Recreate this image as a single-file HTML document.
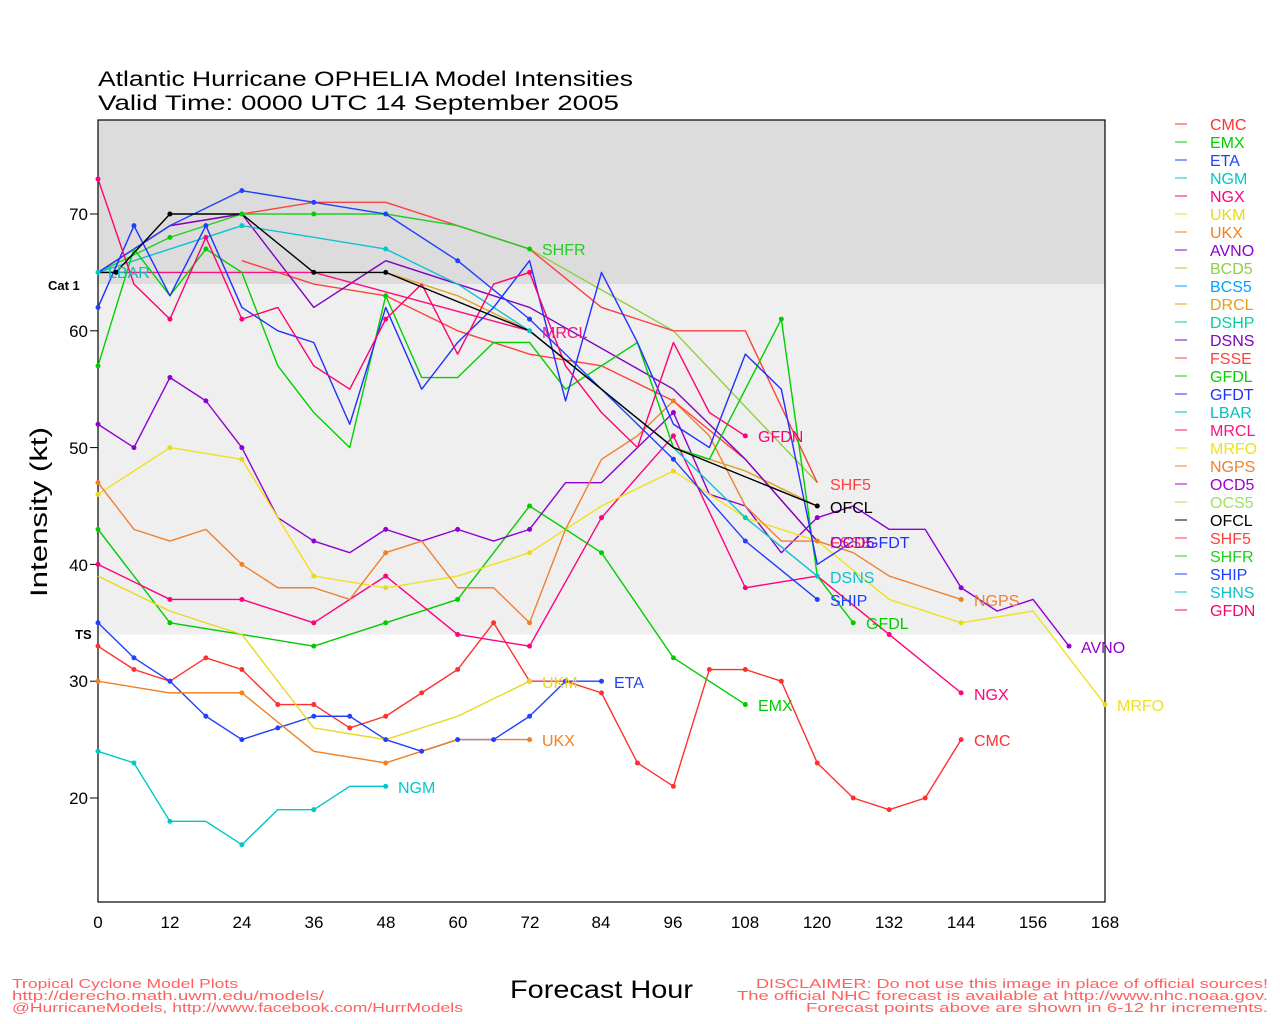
<!DOCTYPE html>
<html><head><meta charset="utf-8"><style>
body{margin:0;background:#fff;}
svg{display:block;font-family:"Liberation Sans",sans-serif;}
.l{fill:none;stroke-width:1.4;vector-effect:non-scaling-stroke;stroke-linejoin:round}
.d{fill:none;stroke-width:5;stroke-linecap:round;vector-effect:non-scaling-stroke}
.t{font-size:16px}
.k{font-size:17px;fill:#000}
</style></head><body>
<svg width="1280" height="1024" viewBox="0 0 1280 1024" xmlns="http://www.w3.org/2000/svg">
<rect x="98" y="120" width="1007" height="164" fill="#dcdcdc"/>
<rect x="98" y="284" width="1007" height="350.5" fill="#efefef"/>
<rect x="98" y="120" width="1007" height="782" fill="none" stroke="#000" stroke-width="1.2"/>
<text x="98" y="86" style="font-size:21px" textLength="535" lengthAdjust="spacingAndGlyphs">Atlantic Hurricane OPHELIA Model Intensities</text>
<text x="98" y="110" style="font-size:21px" textLength="521" lengthAdjust="spacingAndGlyphs">Valid Time: 0000 UTC 14 September 2005</text>
<text x="48" y="290" style="font-size:13px;font-weight:bold">Cat 1</text>
<text x="75" y="639" style="font-size:13px;font-weight:bold">TS</text>
<g stroke="#000" stroke-width="1">
<line x1="90" y1="214" x2="98" y2="214"/><line x1="90" y1="330.8" x2="98" y2="330.8"/><line x1="90" y1="447.6" x2="98" y2="447.6"/><line x1="90" y1="564.4" x2="98" y2="564.4"/><line x1="90" y1="681.2" x2="98" y2="681.2"/><line x1="90" y1="798" x2="98" y2="798"/>
</g>
<g class="k" text-anchor="end">
<text x="88" y="220">70</text><text x="88" y="337">60</text><text x="88" y="454">50</text><text x="88" y="571">40</text><text x="88" y="687">30</text><text x="88" y="804">20</text>
</g>
<g class="k" text-anchor="middle">
<text x="98" y="928">0</text><text x="170" y="928">12</text><text x="242" y="928">24</text><text x="314" y="928">36</text><text x="386" y="928">48</text><text x="458" y="928">60</text><text x="530" y="928">72</text><text x="601" y="928">84</text><text x="673" y="928">96</text><text x="745" y="928">108</text><text x="817" y="928">120</text><text x="889" y="928">132</text><text x="961" y="928">144</text><text x="1033" y="928">156</text><text x="1105" y="928">168</text>
</g>
<text transform="translate(47,512) rotate(-90)" text-anchor="middle" style="font-size:24px" textLength="170" lengthAdjust="spacingAndGlyphs">Intensity (kt)</text>
<text x="510" y="998" style="font-size:25px" textLength="183" lengthAdjust="spacingAndGlyphs">Forecast Hour</text>
<g style="font-size:13px;fill:#ff6060">
<text x="12" y="988" textLength="226" lengthAdjust="spacingAndGlyphs">Tropical Cyclone Model Plots</text>
<text x="12" y="1000" textLength="312" lengthAdjust="spacingAndGlyphs">http://derecho.math.uwm.edu/models/</text>
<text x="12" y="1012" textLength="451" lengthAdjust="spacingAndGlyphs">@HurricaneModels, http://www.facebook.com/HurrModels</text>
<text x="756" y="988" textLength="512" lengthAdjust="spacingAndGlyphs">DISCLAIMER: Do not use this image in place of official sources!</text>
<text x="737" y="1000" textLength="531" lengthAdjust="spacingAndGlyphs">The official NHC forecast is available at http://www.nhc.noaa.gov.</text>
<text x="806" y="1012" textLength="462" lengthAdjust="spacingAndGlyphs">Forecast points above are shown in 6-12 hr increments.</text>
</g>
<g transform="translate(98,1031.6) scale(5.994,-11.68)">
<polyline class="l" stroke="#ff3030" points="0,33 6,31 12,30 18,32 24,31 30,28 36,28 42,26 48,27 54,29 60,31 66,35 72,30 78,30 84,29 90,23 96,21 102,31 108,31 114,30 120,23 126,20 132,19 138,20 144,25"/>
<polyline class="l" stroke="#00cc00" points="0,43 12,35 24,34 36,33 48,35 60,37 72,45 84,41 96,32 108,28"/>
<polyline class="l" stroke="#2040ff" points="0,35 6,32 12,30 18,27 24,25 30,26 36,27 42,27 48,25 54,24 60,25 66,25 72,27 78,30 84,30"/>
<polyline class="l" stroke="#00c8c8" points="0,24 6,23 12,18 18,18 24,16 30,19 36,19 42,21 48,21"/>
<polyline class="l" stroke="#ff0080" points="0,40 12,37 24,37 36,35 48,39 60,34 72,33 84,44 96,51 108,38 120,39 132,34 144,29"/>
<polyline class="l" stroke="#e8d820" points="0,39 12,36 24,34 36,26 48,25 60,27 72,30"/>
<polyline class="l" stroke="#f08020" points="0,30 12,29 24,29 36,24 48,23 60,25 72,25"/>
<polyline class="l" stroke="#9000d0" points="0,52 6,50 12,56 18,54 24,50 30,44 36,42 42,41 48,43 54,42 60,43 66,42 72,43 78,47 84,47 90,50 96,53 102,46 108,45 114,41 120,44 126,45 132,43 138,43 144,38 150,36 156,37 162,33"/>
<polyline class="l" stroke="#f0e020" points="0,46 12,50 24,49 36,39 48,38 60,39 72,41 84,45 96,48 108,44 120,42 132,37 144,35 156,36 168,28"/>
<polyline class="l" stroke="#f08030" points="0,47 6,43 12,42 18,43 24,40 30,38 36,38 42,37 48,41 54,42 60,38 66,38 72,35 78,43 84,49 90,51 96,54 102,51 108,45 114,42 120,42 126,41 132,39 138,38 144,37"/>
<polyline class="l" stroke="#90d040" points="72,67 96,60 120,47"/>
<polyline class="l" stroke="#ff4040" points="0,65 12,69 24,70 36,71 48,71 60,69 72,67 84,62 96,60 108,60 120,47"/>
<polyline class="l" stroke="#20d020" points="0,65 12,68 24,70 36,70 48,70 60,69 72,67"/>
<polyline class="l" stroke="#ff4040" points="24,66 36,64 48,63 60,60 72,58 84,57 96,54 108,49 120,42"/>
<polyline class="l" stroke="#e0a020" points="48,65 60,63 72,60 96,50 108,48 120,45"/>
<polyline class="l" stroke="#8000c0" points="0,65 12,69 24,70 36,62 48,66 60,64 72,62 96,55 108,49 120,42"/>
<polyline class="l" stroke="#10c0d0" points="0,65 12,67 24,69 36,68 48,67 60,64 72,60 84,55 96,50 108,44 120,39"/>
<polyline class="l" stroke="#2040ff" points="0,65 12,69 24,72 36,71 48,70 60,66 72,61 84,55 96,49 108,42 120,37"/>
<polyline class="l" stroke="#ff1080" points="0,65 36,65 72,60"/>
<polyline class="l" stroke="#00d000" points="0,57 6,67 12,63 18,67 24,65 30,57 36,53 42,50 48,63 54,56 60,56 66,59 72,59 78,55 84,57 90,59 96,50 102,49 108,55 114,61 120,39 126,35"/>
<polyline class="l" stroke="#2030ff" points="0,62 6,69 12,63 18,69 24,62 30,60 36,59 42,52 48,62 54,55 60,59 66,62 72,66 78,54 84,65 90,59 96,52 102,50 108,58 114,55 120,40 126,42"/>
<polyline class="l" stroke="#ff0070" points="0,73 6,64 12,61 18,68 24,61 30,62 36,57 42,55 48,61 54,64 60,58 66,64 72,65 78,57 84,53 90,50 96,59 102,53 108,51"/>
<polyline class="l" stroke="#000" points="0,65 3,65 12,70 24,70 36,65 48,65 72,60 96,50 120,45"/>
<path class="d" stroke="#ff3030" d="M0,33h0M6,31h0M12,30h0M18,32h0M24,31h0M30,28h0M36,28h0M42,26h0M48,27h0M54,29h0M60,31h0M66,35h0M72,30h0M84,29h0M90,23h0M96,21h0M102,31h0M108,31h0M114,30h0M120,23h0M126,20h0M132,19h0M138,20h0M144,25h0"/>
<path class="d" stroke="#2040ff" d="M0,35h0M6,32h0M12,30h0M18,27h0M24,25h0M30,26h0M36,27h0M42,27h0M48,25h0M54,24h0M60,25h0M66,25h0M72,27h0M78,30h0M84,30h0M0,62h0M6,69h0M18,69h0M24,72h0M36,71h0M48,70h0M60,66h0M72,61h0M96,49h0M108,42h0M120,37h0"/>
<path class="d" stroke="#00cc00" d="M0,43h0M12,35h0M36,33h0M48,35h0M60,37h0M72,45h0M84,41h0M96,32h0M108,28h0M0,57h0M12,68h0M18,67h0M24,70h0M36,70h0M48,63h0M72,67h0M114,61h0M126,35h0"/>
<path class="d" stroke="#ff0080" d="M0,40h0M12,37h0M24,37h0M36,35h0M48,39h0M60,34h0M72,33h0M84,44h0M96,51h0M108,38h0M132,34h0M144,29h0M0,73h0M12,61h0M18,68h0M24,61h0M48,61h0M72,65h0M108,51h0"/>
<path class="d" stroke="#9000d0" d="M0,52h0M6,50h0M12,56h0M18,54h0M24,50h0M36,42h0M48,43h0M60,43h0M72,43h0M96,53h0M120,44h0M144,38h0M162,33h0"/>
<path class="d" stroke="#f08020" d="M0,47h0M24,40h0M48,41h0M72,35h0M96,54h0M120,42h0M144,37h0M0,30h0M24,29h0M48,23h0M72,25h0"/>
<path class="d" stroke="#e8d820" d="M0,46h0M12,50h0M24,49h0M36,39h0M48,38h0M72,41h0M96,48h0M144,35h0M168,28h0M72,30h0"/>
<path class="d" stroke="#00c8c8" d="M0,24h0M6,23h0M12,18h0M24,16h0M36,19h0M48,21h0M0,65h0M24,69h0M48,67h0M72,60h0M108,44h0M120,39h0"/>
<path class="d" stroke="#000" d="M3,65h0M12,70h0M36,65h0M48,65h0M120,45h0"/>
</g>
<g class="t">
<text x="542" y="255" fill="#20d020">SHFR</text>
<text x="542" y="338" fill="#ff1080">MRCL</text>
<text x="108" y="278" fill="#00c0c0">LBAR</text>
<text x="758" y="442" fill="#ff0070">GFDN</text>
<text x="830" y="490" fill="#ff4040">SHF5</text>
<text x="830" y="513" fill="#000">OFCL</text>
<text x="830" y="548" fill="#ff4040">FSSE</text>
<text x="830" y="548" fill="#a000d0">OCD5</text>
<text x="866" y="548" fill="#2030ff">GFDT</text>
<text x="830" y="583" fill="#10c0d0">DSNS</text>
<text x="830" y="606" fill="#2040ff">SHIP</text>
<text x="866" y="629" fill="#00d000">GFDL</text>
<text x="974" y="606" fill="#f08030">NGPS</text>
<text x="1081" y="653" fill="#9000d0">AVNO</text>
<text x="1117" y="711" fill="#f0e020">MRFO</text>
<text x="974" y="700" fill="#ff0080">NGX</text>
<text x="974" y="746" fill="#ff3030">CMC</text>
<text x="758" y="711" fill="#00cc00">EMX</text>
<text x="614" y="688" fill="#2040ff">ETA</text>
<text x="542" y="688" fill="#e8d820">UKM</text>
<text x="542" y="746" fill="#f08020">UKX</text>
<text x="398" y="793" fill="#00c8c8">NGM</text>
</g>
<g class="t">
<line x1="1175" y1="124" x2="1187" y2="124" stroke="#ff3030"/><text x="1210" y="130" fill="#ff3030">CMC</text>
<line x1="1175" y1="142" x2="1187" y2="142" stroke="#00cc00"/><text x="1210" y="148" fill="#00cc00">EMX</text>
<line x1="1175" y1="160" x2="1187" y2="160" stroke="#2040ff"/><text x="1210" y="166" fill="#2040ff">ETA</text>
<line x1="1175" y1="178" x2="1187" y2="178" stroke="#00c8c8"/><text x="1210" y="184" fill="#00c8c8">NGM</text>
<line x1="1175" y1="196" x2="1187" y2="196" stroke="#ff0080"/><text x="1210" y="202" fill="#ff0080">NGX</text>
<line x1="1175" y1="214" x2="1187" y2="214" stroke="#e8d820"/><text x="1210" y="220" fill="#e8d820">UKM</text>
<line x1="1175" y1="232" x2="1187" y2="232" stroke="#f08020"/><text x="1210" y="238" fill="#f08020">UKX</text>
<line x1="1175" y1="250" x2="1187" y2="250" stroke="#9000d0"/><text x="1210" y="256" fill="#9000d0">AVNO</text>
<line x1="1175" y1="268" x2="1187" y2="268" stroke="#90d040"/><text x="1210" y="274" fill="#90d040">BCD5</text>
<line x1="1175" y1="286" x2="1187" y2="286" stroke="#00a0ff"/><text x="1210" y="292" fill="#00a0ff">BCS5</text>
<line x1="1175" y1="304" x2="1187" y2="304" stroke="#e0a020"/><text x="1210" y="310" fill="#e0a020">DRCL</text>
<line x1="1175" y1="322" x2="1187" y2="322" stroke="#00d0a0"/><text x="1210" y="328" fill="#00d0a0">DSHP</text>
<line x1="1175" y1="340" x2="1187" y2="340" stroke="#8000c0"/><text x="1210" y="346" fill="#8000c0">DSNS</text>
<line x1="1175" y1="358" x2="1187" y2="358" stroke="#ff4040"/><text x="1210" y="364" fill="#ff4040">FSSE</text>
<line x1="1175" y1="376" x2="1187" y2="376" stroke="#00d000"/><text x="1210" y="382" fill="#00d000">GFDL</text>
<line x1="1175" y1="394" x2="1187" y2="394" stroke="#2030ff"/><text x="1210" y="400" fill="#2030ff">GFDT</text>
<line x1="1175" y1="412" x2="1187" y2="412" stroke="#00c0c0"/><text x="1210" y="418" fill="#00c0c0">LBAR</text>
<line x1="1175" y1="430" x2="1187" y2="430" stroke="#ff1080"/><text x="1210" y="436" fill="#ff1080">MRCL</text>
<line x1="1175" y1="448" x2="1187" y2="448" stroke="#f0e020"/><text x="1210" y="454" fill="#f0e020">MRFO</text>
<line x1="1175" y1="466" x2="1187" y2="466" stroke="#f08030"/><text x="1210" y="472" fill="#f08030">NGPS</text>
<line x1="1175" y1="484" x2="1187" y2="484" stroke="#a000d0"/><text x="1210" y="490" fill="#a000d0">OCD5</text>
<line x1="1175" y1="502" x2="1187" y2="502" stroke="#a0e060"/><text x="1210" y="508" fill="#a0e060">OCS5</text>
<line x1="1175" y1="520" x2="1187" y2="520" stroke="#000"/><text x="1210" y="526" fill="#000">OFCL</text>
<line x1="1175" y1="538" x2="1187" y2="538" stroke="#ff4040"/><text x="1210" y="544" fill="#ff4040">SHF5</text>
<line x1="1175" y1="556" x2="1187" y2="556" stroke="#20d020"/><text x="1210" y="562" fill="#20d020">SHFR</text>
<line x1="1175" y1="574" x2="1187" y2="574" stroke="#2040ff"/><text x="1210" y="580" fill="#2040ff">SHIP</text>
<line x1="1175" y1="592" x2="1187" y2="592" stroke="#10c0d0"/><text x="1210" y="598" fill="#10c0d0">SHNS</text>
<line x1="1175" y1="610" x2="1187" y2="610" stroke="#ff0070"/><text x="1210" y="616" fill="#ff0070">GFDN</text>
</g>
</svg>
</body></html>
